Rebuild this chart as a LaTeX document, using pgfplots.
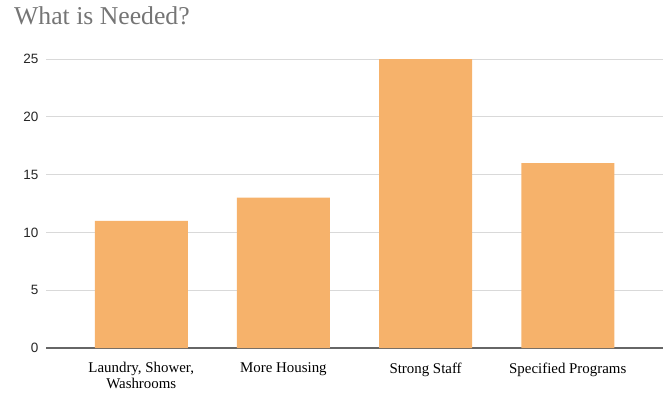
\documentclass[border=0pt]{standalone}
\usepackage{pgfplots}
\pgfplotsset{compat=1.18}
\usepackage{fontspec}
\setmainfont{Liberation Serif}
\newfontfamily\arialf{Liberation Sans}
\definecolor{barc}{HTML}{F6B26B}
\definecolor{gridc}{HTML}{D9D9D9}
\definecolor{titlec}{HTML}{757575}
\definecolor{axc}{HTML}{666666}
\begin{document}
\begin{tikzpicture}[x=1pt,y=1pt]
\path[use as bounding box] (0,0) rectangle (663,392);
\node[anchor=base west, text=titlec, font=\fontsize{25.7}{30}\selectfont, inner sep=0pt] at (14,367) {What is Needed?};
\begin{axis}[
  at={(46pt,44pt)}, anchor=south west,
  scale only axis, width=617pt, height=289pt,
  xmin=-0.67, xmax=3.67, ymin=0, ymax=25,
  axis line style={draw=none},
  major tick length=0pt,
  ytick={0,5,10,15,20,25},
  ymajorgrids, grid style={gridc, line width=1pt},
  extra y ticks={0}, extra y tick labels={},
  extra y tick style={grid style={axc, line width=1.3pt}},
  xtick={0,1,2,3},
  xticklabels={{Laundry, Shower,\\Washrooms},{More Housing},{Strong Staff},{Specified Programs}},
  xticklabel style={align=center, font=\fontsize{14.9}{15.5}\selectfont, text=black, yshift=-11pt},
  yticklabel style={font=\arialf\fontsize{13.5}{15}\selectfont, text=black!85, xshift=-4pt},
  /pgf/number format/assume math mode=true,
  ybar, bar width=93pt,
  clip=false,
]
\addplot[fill=barc, draw=none] coordinates {(0,11) (1,13) (2,25) (3,16)};
\end{axis}
\end{tikzpicture}
\end{document}
